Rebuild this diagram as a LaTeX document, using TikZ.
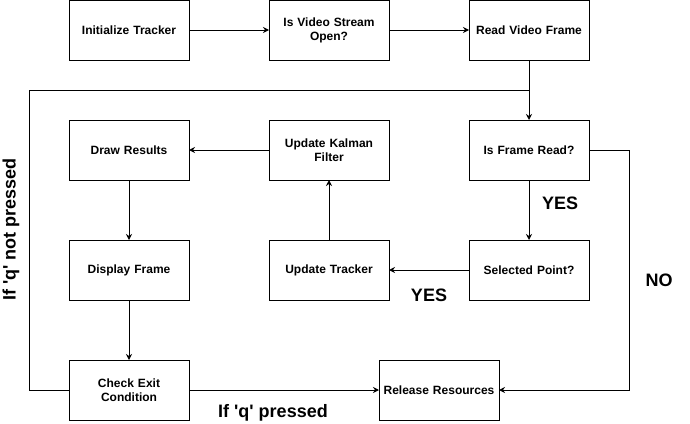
\documentclass[tikz,border=0pt]{standalone}
\usepackage{fontspec}
\setmainfont{Liberation Sans}
\usetikzlibrary{positioning,arrows.meta}

\begin{document}
\begin{tikzpicture}[x=1pt, y=-1pt, node distance=60pt and 80pt,
    box/.style={rectangle, draw, line width=1pt, outer sep=0pt, minimum width=120pt, minimum height=60pt,
        text width=112pt, align=center, font=\fontsize{12}{14}\selectfont\bfseries},
    flow/.style={-{Stealth[length=6pt,width=6pt,inset=2pt]}, line width=1pt},
    link/.style={line width=1pt},
    lbl/.style={inner sep=0pt, font=\fontsize{18}{20}\selectfont\bfseries}]
    \useasboundingbox (0,0) rectangle (690,423);

    % Nodes
    \node (init) [box] at (129,30) {Initialize Tracker};
    \node (open) [box, right=of init] {Is Video Stream\\Open?};
    \node (read) [box, right=of open] {Read Video Frame};

    \node (isread) [box, below=of read] {Is Frame Read?};
    \node (kalman) [box, below=of open] {Update Kalman\\Filter};
    \node (drawres) [box, below=of init] {Draw Results};

    \node (selected) [box, below=of isread] {Selected Point?};
    \node (tracker) [box, below=of kalman] {Update Tracker};
    \node (display) [box, below=of drawres] {Display Frame};

    \node (check) [box, below=of display] {Check Exit\\Condition};
    \node (release) [box] at (439,390) {Release Resources};

    \coordinate (join) at (529,90);

    % Connections
    \draw [flow] (init) -- (open);
    \draw [flow] (open) -- (read);
    \draw [flow] (read) -- (isread);

    \draw [flow] (isread) -- node[lbl, right=12.5pt, pos=0.39] {YES} (selected);
    \draw [flow] (selected) -- node[lbl, below=18pt] {YES} (tracker);
    \draw [flow] (tracker) -- (kalman);
    \draw [flow] (kalman) -- (drawres);
    \draw [flow] (drawres) -- (display);
    \draw [flow] (display) -- (check);

    \draw [flow] (check) -- node[lbl, below=14pt, pos=0.442] {If \textquotesingle q\textquotesingle{} pressed} (release);
    \draw [flow] (isread.east) -- ++(40,0) |- node[lbl, right=16pt, pos=0.272] {NO} (release.east);

    % Loop back
    \draw [link] (check.west) -- ++(-40,0) |- (join);
    \node [lbl, rotate=90] at (11,229.5) {If \textquotesingle q\textquotesingle{} not pressed};
\end{tikzpicture}
\end{document}
